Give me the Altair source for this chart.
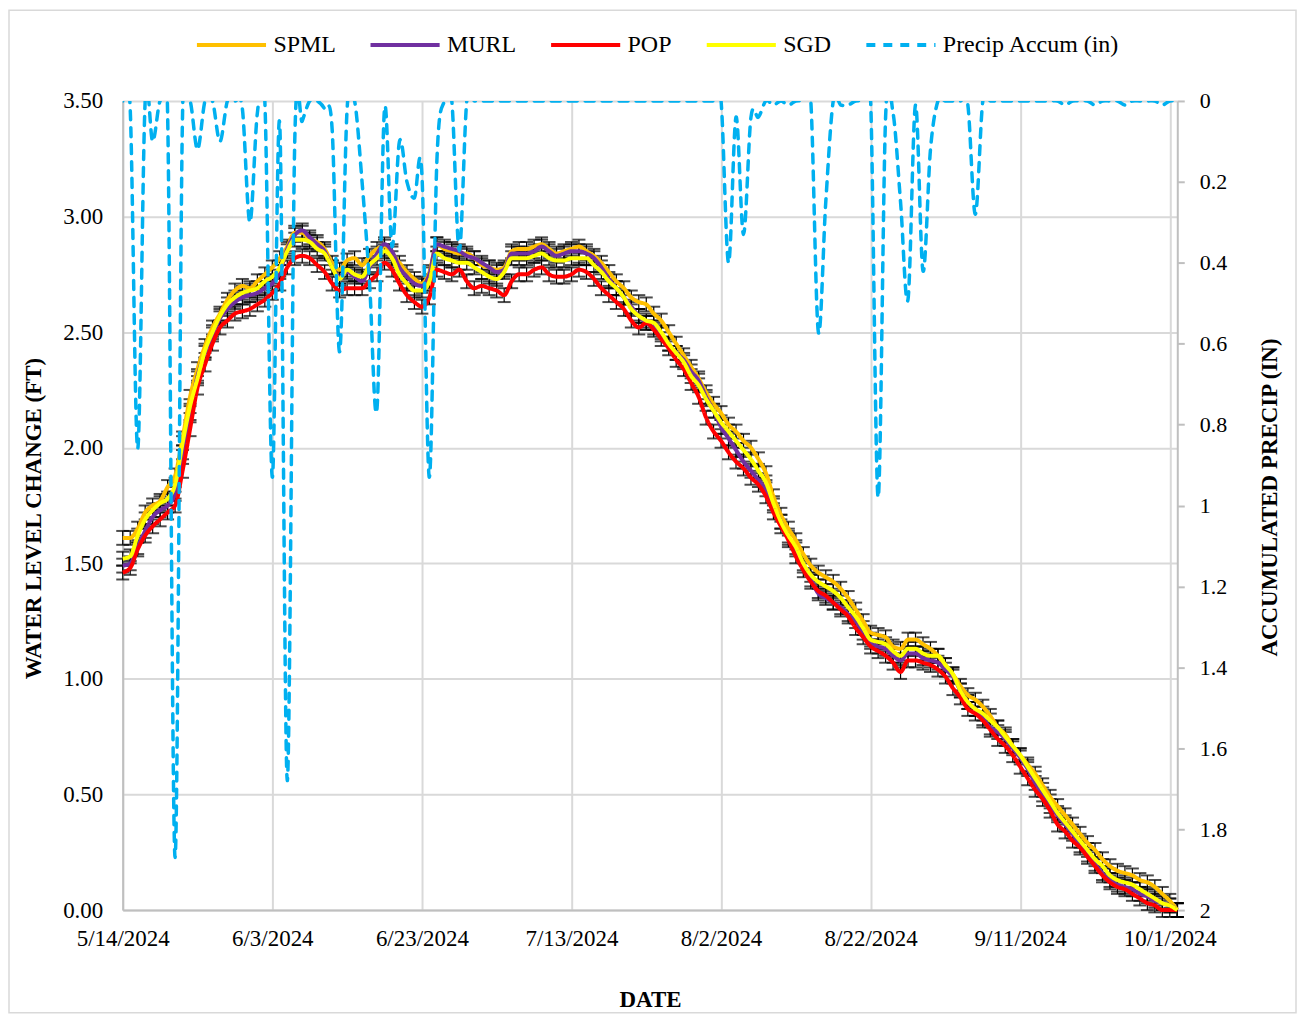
import altair as alt
import pandas as pd

# ---------------- data ----------------
START_DATE = "2024-05-14"
X_END_DATE = "2024-10-02"
X_TICK_DATES = ["2024-05-14", "2024-06-03", "2024-06-23", "2024-07-13",
                "2024-08-02", "2024-08-22", "2024-09-11", "2024-10-01"]
LEFT_TICKS = [0, 0.5, 1, 1.5, 2, 2.5, 3, 3.5]
RIGHT_TICKS = [0, 0.2, 0.4, 0.6, 0.8, 1, 1.2, 1.4, 1.6, 1.8, 2]

SERIES = ["SPML", "MURL", "POP", "SGD"]
PRECIP_NAME = "Precip Accum (in)"
COLORS = ["#FFC000", "#7030A0", "#FF0000", "#FFFF00"]
PRECIP_COLOR = "#00B0F0"
ERR = 0.03

SPML = [1.61, 1.61, 1.65, 1.72, 1.75, 1.77, 1.83, 1.88, 2.04, 2.22,
        2.34, 2.44, 2.52, 2.58, 2.64, 2.68, 2.70, 2.69, 2.72, 2.75,
        2.78, 2.82, 2.87, 2.93, 2.93, 2.90, 2.89, 2.86, 2.80, 2.77,
        2.81, 2.82, 2.79, 2.83, 2.86, 2.87, 2.84, 2.80, 2.76, 2.73,
        2.71, 2.76, 2.88, 2.86, 2.85, 2.84, 2.84, 2.82, 2.79, 2.78,
        2.77, 2.78, 2.85, 2.86, 2.86, 2.87, 2.88, 2.86, 2.84, 2.85,
        2.86, 2.87, 2.85, 2.83, 2.80, 2.76, 2.72, 2.69, 2.65, 2.63,
        2.62, 2.58, 2.55, 2.50, 2.45, 2.40, 2.35, 2.30, 2.24, 2.19,
        2.15, 2.10, 2.07, 2.03, 2.00, 1.95, 1.89, 1.79, 1.71, 1.65,
        1.60, 1.54, 1.49, 1.46, 1.44, 1.42, 1.39, 1.35, 1.30, 1.25,
        1.20, 1.19, 1.18, 1.14, 1.13, 1.17, 1.17, 1.15, 1.13, 1.10,
        1.06, 1.02, 0.97, 0.93, 0.91, 0.88, 0.84, 0.79, 0.76, 0.71,
        0.67, 0.63, 0.59, 0.54, 0.49, 0.45, 0.41, 0.37, 0.33, 0.29,
        0.26, 0.22, 0.19, 0.17, 0.16, 0.15, 0.13, 0.12, 0.10, 0.07,
        0.04, 0.00]

MURL = [1.49, 1.50, 1.57, 1.64, 1.70, 1.73, 1.75, 1.80, 1.98, 2.15,
        2.31, 2.41, 2.49, 2.56, 2.60, 2.63, 2.65, 2.66, 2.67, 2.69,
        2.71, 2.76, 2.86, 2.92, 2.94, 2.91, 2.88, 2.85, 2.78, 2.74,
        2.76, 2.74, 2.72, 2.78, 2.84, 2.88, 2.85, 2.78, 2.74, 2.71,
        2.70, 2.75, 2.88, 2.87, 2.86, 2.85, 2.83, 2.82, 2.80, 2.78,
        2.76, 2.77, 2.84, 2.84, 2.84, 2.85, 2.87, 2.85, 2.83, 2.84,
        2.85, 2.85, 2.84, 2.82, 2.78, 2.73, 2.69, 2.65, 2.61, 2.57,
        2.54, 2.52, 2.49, 2.45, 2.41, 2.38, 2.33, 2.29, 2.22, 2.16,
        2.09, 2.04, 1.99, 1.94, 1.90, 1.86, 1.82, 1.75, 1.68, 1.61,
        1.56, 1.49, 1.43, 1.37, 1.35, 1.33, 1.31, 1.28, 1.25, 1.20,
        1.16, 1.14, 1.13, 1.10, 1.08, 1.11, 1.11, 1.09, 1.08, 1.07,
        1.04, 1.01, 0.95, 0.90, 0.87, 0.83, 0.79, 0.77, 0.74, 0.70,
        0.66, 0.61, 0.55, 0.50, 0.45, 0.41, 0.37, 0.33, 0.28, 0.24,
        0.20, 0.16, 0.13, 0.11, 0.10, 0.09, 0.07, 0.06, 0.04, 0.03,
        0.02, 0.00]

POP = [1.46, 1.48, 1.56, 1.62, 1.66, 1.69, 1.72, 1.75, 1.90, 2.08,
       2.26, 2.36, 2.45, 2.52, 2.55, 2.58, 2.59, 2.60, 2.62, 2.64,
       2.67, 2.71, 2.78, 2.82, 2.83, 2.82, 2.79, 2.76, 2.71, 2.68,
       2.69, 2.69, 2.69, 2.72, 2.75, 2.80, 2.77, 2.71, 2.66, 2.63,
       2.61, 2.65, 2.77, 2.76, 2.75, 2.77, 2.72, 2.69, 2.70, 2.69,
       2.68, 2.66, 2.72, 2.75, 2.75, 2.77, 2.78, 2.75, 2.74, 2.74,
       2.75, 2.77, 2.76, 2.73, 2.69, 2.66, 2.63, 2.60, 2.55, 2.52,
       2.54, 2.51, 2.47, 2.43, 2.38, 2.34, 2.28, 2.22, 2.13, 2.07,
       2.03, 1.98, 1.94, 1.91, 1.87, 1.84, 1.79, 1.72, 1.66, 1.60,
       1.53, 1.47, 1.42, 1.38, 1.36, 1.33, 1.30, 1.27, 1.22, 1.18,
       1.14, 1.12, 1.10, 1.07, 1.03, 1.08, 1.08, 1.07, 1.06, 1.04,
       1.01, 0.96, 0.92, 0.87, 0.85, 0.82, 0.78, 0.74, 0.71, 0.67,
       0.62, 0.57, 0.52, 0.48, 0.43, 0.37, 0.34, 0.30, 0.27, 0.23,
       0.19, 0.15, 0.12, 0.10, 0.09, 0.07, 0.05, 0.03, 0.02, 0.00,
       0.00, 0.00]

SGD = [1.52, 1.53, 1.62, 1.69, 1.73, 1.76, 1.78, 1.84, 2.02, 2.18,
       2.30, 2.42, 2.50, 2.57, 2.62, 2.65, 2.67, 2.68, 2.69, 2.72,
       2.74, 2.78, 2.85, 2.90, 2.90, 2.89, 2.86, 2.84, 2.78, 2.73,
       2.77, 2.75, 2.74, 2.79, 2.82, 2.85, 2.82, 2.75, 2.71, 2.68,
       2.68, 2.72, 2.84, 2.82, 2.81, 2.80, 2.80, 2.78, 2.76, 2.74,
       2.73, 2.76, 2.82, 2.82, 2.82, 2.83, 2.84, 2.82, 2.81, 2.81,
       2.82, 2.82, 2.82, 2.79, 2.76, 2.72, 2.69, 2.65, 2.60, 2.57,
       2.55, 2.54, 2.50, 2.45, 2.41, 2.37, 2.31, 2.27, 2.21, 2.16,
       2.11, 2.07, 2.03, 1.99, 1.95, 1.90, 1.85, 1.76, 1.68, 1.62,
       1.57, 1.50, 1.45, 1.42, 1.40, 1.38, 1.35, 1.31, 1.27, 1.22,
       1.17, 1.16, 1.15, 1.12, 1.10, 1.13, 1.13, 1.11, 1.10, 1.10,
       1.06, 1.02, 0.95, 0.90, 0.87, 0.85, 0.82, 0.79, 0.75, 0.71,
       0.67, 0.62, 0.57, 0.52, 0.47, 0.42, 0.38, 0.34, 0.30, 0.26,
       0.22, 0.19, 0.15, 0.13, 0.12, 0.11, 0.09, 0.07, 0.05, 0.03,
       0.02, 0.00]

PRECIP = [0.00, 0.02, 0.86, 0.00, 0.10, 0.00, 0.03, 1.87, 0.03, 0.00,
          0.12, 0.00, 0.00, 0.10, 0.00, 0.00, 0.02, 0.30, 0.03, 0.00,
          0.93, 0.06, 1.68, 0.10, 0.05, 0.00, 0.00, 0.02, 0.07, 0.62,
          0.02, 0.00, 0.20, 0.45, 0.76, 0.02, 0.36, 0.10, 0.20, 0.24,
          0.18, 0.93, 0.15, 0.00, 0.00, 0.37, 0.00, 0.00, 0.00, 0.00,
          0.00, 0.00, 0.00, 0.00, 0.00, 0.00, 0.00, 0.00, 0.00, 0.00,
          0.00, 0.00, 0.00, 0.00, 0.00, 0.00, 0.00, 0.00, 0.00, 0.00,
          0.00, 0.00, 0.00, 0.00, 0.00, 0.00, 0.00, 0.00, 0.00, 0.00,
          0.00, 0.40, 0.04, 0.33, 0.04, 0.04, 0.00, 0.01, 0.00, 0.01,
          0.00, 0.00, 0.00, 0.57, 0.25, 0.00, 0.01, 0.01, 0.00, 0.00,
          0.00, 0.98, 0.04, 0.03, 0.25, 0.49, 0.01, 0.42, 0.12, 0.00,
          0.00, 0.00, 0.00, 0.01, 0.28, 0.00, 0.00, 0.00, 0.00, 0.00,
          0.00, 0.00, 0.00, 0.00, 0.00, 0.00, 0.01, 0.00, 0.00, 0.00,
          0.01, 0.00, 0.00, 0.00, 0.01, 0.00, 0.00, 0.00, 0.00, 0.01,
          0.00, 0.00]

# ---------------- tables ----------------
dates = [d.strftime("%Y-%m-%d") for d in pd.date_range(START_DATE, periods=len(SPML), freq="D")]
level_df = pd.DataFrame([
    {"date": d, "series": s, "level": v}
    for s, vals in zip(SERIES, [SPML, MURL, POP, SGD])
    for d, v in zip(dates, vals)
])
precip_df = pd.DataFrame({"date": dates, "series": PRECIP_NAME, "precip": PRECIP})


def dt(s):
    t = pd.Timestamp(s)
    return alt.DateTime(year=t.year, month=t.month, date=t.day, utc=True)


FONT = "Liberation Serif"
W, H = 1057, 811
GRID = "#d9d9d9"
AXIS_LINE = "#bfbfbf"

ALL_NAMES = SERIES + [PRECIP_NAME]
color_scale = alt.Scale(domain=ALL_NAMES, range=COLORS + [PRECIP_COLOR])
dash_scale = alt.Scale(domain=ALL_NAMES, range=[[1, 0]] * 4 + [[9, 8]])
legend = alt.Legend(title=None, orient="none", legendX=72, legendY=-93,
                    direction="horizontal", columns=5, columnPadding=26,
                    symbolType="stroke", symbolSize=4800, symbolStrokeWidth=4,
                    labelFont=FONT, labelFontSize=24, labelColor="black",
                    labelOffset=5, labelLimit=0)

x_enc = alt.X(
    "date:T",
    scale=alt.Scale(type="utc", domain=[dt(START_DATE), dt(X_END_DATE)]),
    axis=alt.Axis(title="DATE", values=[dt(s) for s in X_TICK_DATES],
                  format="%-m/%-d/%Y", labelAngle=0, labelFlush=False,
                  labelOverlap=False, tickSize=0, labelPadding=18,
                  grid=True, gridColor=GRID, gridWidth=2,
                  domainColor=AXIS_LINE, domainWidth=2,
                  titleX=W / 2, titleY=90, titleAlign="center",
                  titleBaseline="middle"),
)

y_scale = alt.Scale(domain=[0, 3.5], nice=False, zero=False)
y_axis = alt.Axis(title="WATER LEVEL CHANGE (FT)", values=LEFT_TICKS, format=".2f",
                  tickSize=0, labelPadding=20, labelFlush=False,
                  grid=True, gridColor=GRID, gridWidth=2,
                  domainColor=AXIS_LINE, domainWidth=2,
                  titleAngle=270, titleX=-89, titleY=418,
                  titleAlign="center", titleBaseline="middle")

right_axis = alt.Axis(orient="right", title="ACCUMULATED PRECIP (IN)",
                      values=RIGHT_TICKS, format="~g", grid=False,
                      tickSize=7, tickColor=AXIS_LINE, tickWidth=2,
                      domainColor=AXIS_LINE, domainWidth=2,
                      labelPadding=15, labelFlush=False, labelFontSize=22,
                      titleAngle=270, titleX=92, titleY=397,
                      titleAlign="center", titleBaseline="middle")

# chart-area border
border = alt.Chart(pd.DataFrame({"k": [0]})).mark_rect(
    filled=False, stroke=GRID, strokeWidth=1.5
).encode(x=alt.value(-114), x2=alt.value(1176), y=alt.value(-91), y2=alt.value(914))

base_err = alt.Chart(level_df).transform_calculate(
    lo=f"datum.level - {ERR}", hi=f"datum.level + {ERR}"
)
err_rule = base_err.mark_rule(color="black", strokeWidth=1.2).encode(
    x=x_enc, y=alt.Y("lo:Q", scale=y_scale, axis=y_axis), y2="hi:Q"
)
cap_lo = base_err.mark_tick(color="black", thickness=2, size=13, orient="horizontal").encode(
    x=x_enc, y=alt.Y("lo:Q", scale=y_scale, axis=y_axis)
)
cap_hi = base_err.mark_tick(color="black", thickness=2, size=13, orient="horizontal").encode(
    x=x_enc, y=alt.Y("hi:Q", scale=y_scale, axis=y_axis)
)

lines = [
    alt.Chart(level_df).transform_filter(alt.datum.series == s)
    .mark_line(interpolate="monotone", strokeWidth=4)
    .encode(
        x=x_enc,
        y=alt.Y("level:Q", scale=y_scale, axis=y_axis),
        color=alt.Color("series:N", scale=color_scale, legend=legend),
        strokeDash=alt.StrokeDash("series:N", scale=dash_scale, legend=legend),
    )
    for s in SERIES
]

precip = alt.Chart(precip_df).mark_line(
    interpolate="cardinal", strokeWidth=3.5, strokeCap="round", clip=True
).encode(
    x=x_enc,
    y=alt.Y("precip:Q", scale=alt.Scale(domain=[0, 2], reverse=True, nice=False, zero=False),
            axis=right_axis),
    color=alt.Color("series:N", scale=color_scale, legend=legend),
    strokeDash=alt.StrokeDash("series:N", scale=dash_scale, legend=legend),
)

water = alt.layer(border, err_rule, cap_lo, cap_hi, *lines)

chart = (
    alt.layer(water, precip)
    .resolve_scale(y="independent")
    .properties(width=W, height=H,
                autosize=alt.AutoSizeParams(type="none"),
                padding={"left": 115, "top": 92, "right": 120, "bottom": 105})
    .configure_view(stroke=None)
    .configure_axis(labelFont=FONT, titleFont=FONT, labelFontSize=23, titleFontSize=23,
                    labelColor="black", titleColor="black", titleFontWeight="bold")
)

chart.save("out.html", embed_options={"renderer": "svg", "actions": False})
